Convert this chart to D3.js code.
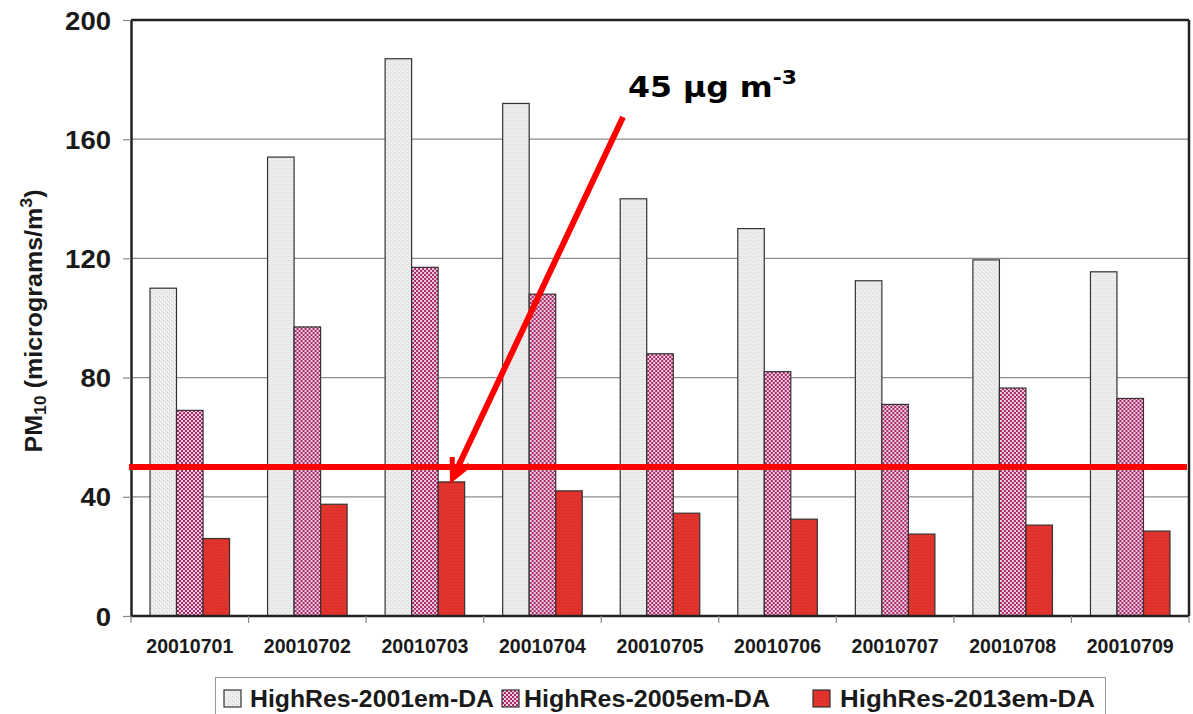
<!DOCTYPE html>
<html>
<head>
<meta charset="utf-8">
<script src="https://cdn.jsdelivr.net/npm/d3@7/dist/d3.min.js"></script>
<style>
  body { margin: 0; background: #fff; }
  svg text { font-family: "Liberation Sans", Arial, sans-serif; font-weight: bold; }
</style>
</head>
<body>
<svg id="chart" width="1193" height="714"></svg>
<script>
const dates = ["20010701","20010702","20010703","20010704","20010705","20010706","20010707","20010708","20010709"];
const seriesNames = ["HighRes-2001em-DA","HighRes-2005em-DA","HighRes-2013em-DA"];
const em2001 = [110, 154, 187, 172, 140, 130, 112.5, 119.5, 115.5];
const em2005 = [69, 97, 117, 108, 88, 82, 71, 76.5, 73];
const em2013 = [26, 37.5, 45, 42, 34.5, 32.5, 27.5, 30.5, 28.5];
const yTicks = [0, 40, 80, 120, 160, 200];
const limitValue = 50;
const annotatedIndex = 2;

const margin = { top: 20, right: 4, bottom: 98, left: 131 };
const svg = d3.select("#chart");
const width = 1193 - margin.left - margin.right;
const height = 714 - margin.top - margin.bottom;

// stretch text horizontally (the source font is a bit wider than Arial)
function widen(sel, factor) {
    sel.each(function() {
        const w = this.getComputedTextLength();
        d3.select(this).attr("textLength", w * factor).attr("lengthAdjust", "spacingAndGlyphs");
    });
}

// fill patterns
const defs = svg.append("defs");
const pGray = defs.append("pattern").attr("id", "pGray")
    .attr("width", 4).attr("height", 4).attr("patternUnits", "userSpaceOnUse");
pGray.append("rect").attr("width", 4).attr("height", 4).attr("fill", "#ebebeb");
pGray.append("rect").attr("x", 0).attr("y", 0).attr("width", 1).attr("height", 1).attr("fill", "#d0d0d0");
pGray.append("rect").attr("x", 2).attr("y", 2).attr("width", 1).attr("height", 1).attr("fill", "#d8d8d8");
pGray.append("rect").attr("x", 3).attr("y", 1).attr("width", 1).attr("height", 1).attr("fill", "#f8f8f8");
pGray.append("rect").attr("x", 1).attr("y", 3).attr("width", 1).attr("height", 1).attr("fill", "#f8f8f8");

const pPink = defs.append("pattern").attr("id", "pPink")
    .attr("width", 4).attr("height", 4).attr("patternUnits", "userSpaceOnUse");
pPink.append("rect").attr("width", 4).attr("height", 4).attr("fill", "#f0d0e0");
pPink.append("rect").attr("x", 0).attr("y", 0).attr("width", 2).attr("height", 2).attr("fill", "#a8286a");
pPink.append("rect").attr("x", 2).attr("y", 2).attr("width", 2).attr("height", 2).attr("fill", "#a8286a");

const pRed = defs.append("pattern").attr("id", "pRed")
    .attr("width", 3).attr("height", 3).attr("patternUnits", "userSpaceOnUse");
pRed.append("rect").attr("width", 3).attr("height", 3).attr("fill", "#e2332c");
pRed.append("rect").attr("x", 1).attr("y", 1).attr("width", 1).attr("height", 1).attr("fill", "#d02a26");

const fills = ["url(#pGray)", "url(#pPink)", "url(#pRed)"];

const g = svg.append("g").attr("transform", `translate(${margin.left},${margin.top})`);

const x0 = d3.scaleBand().domain(dates).range([0, width]).paddingInner(0).paddingOuter(0);
const x1 = d3.scaleBand().domain(seriesNames).range([19, x0.bandwidth() - 19]);
const y = d3.scaleLinear().domain([0, 200]).range([height, 0]);

// gridlines
g.selectAll(".grid").data(yTicks.filter(t => t > 0 && t < 200)).enter()
    .append("line")
    .attr("x1", 0).attr("x2", width)
    .attr("y1", d => y(d)).attr("y2", d => y(d))
    .attr("stroke", "#8c8c8c").attr("stroke-width", 1.2);

// bars
const rows = dates.map((d, i) => ({ date: d, values: [em2001[i], em2005[i], em2013[i]] }));
const groups = g.selectAll(".grp").data(rows).enter()
    .append("g").attr("transform", d => `translate(${x0(d.date)},0)`);
groups.selectAll("rect")
    .data(d => d.values.map((v, k) => ({ k, v })))
    .enter().append("rect")
    .attr("x", d => x1(seriesNames[d.k]))
    .attr("width", x1.bandwidth())
    .attr("y", d => y(d.v))
    .attr("height", d => y(0) - y(d.v))
    .attr("fill", d => fills[d.k])
    .attr("stroke", "#333")
    .attr("stroke-width", 1.2);

// frame top & right
g.append("line").attr("x1", 0).attr("x2", width).attr("y1", 0).attr("y2", 0)
    .attr("stroke", "#222").attr("stroke-width", 2.5);
g.append("line").attr("x1", width).attr("x2", width).attr("y1", 0).attr("y2", height)
    .attr("stroke", "#222").attr("stroke-width", 2.5);

// y axis
const yAxis = g.append("g")
    .call(d3.axisLeft(y).tickValues(yTicks).tickSize(8).tickPadding(12).tickSizeOuter(0));
yAxis.select(".domain").attr("stroke", "#222").attr("stroke-width", 2.5);
yAxis.selectAll(".tick line").attr("stroke", "#888").attr("stroke-width", 1.2);
yAxis.selectAll(".tick text")
    .style("font-size", "25px").style("font-family", "Liberation Sans, Arial, sans-serif")
    .style("font-weight", "bold").attr("fill", "#1a1a1a").attr("dy", "0.36em");
widen(yAxis.selectAll(".tick text"), 1.1);

// x axis
const xAxis = g.append("g").attr("transform", `translate(0,${height})`);
xAxis.append("line").attr("x1", 0).attr("x2", width).attr("y1", 0).attr("y2", 0)
    .attr("stroke", "#222").attr("stroke-width", 2.5);
xAxis.selectAll(".xt").data(dates.concat(["end"])).enter().append("line")
    .attr("x1", (d, i) => i * x0.step()).attr("x2", (d, i) => i * x0.step())
    .attr("y1", 0).attr("y2", 7)
    .attr("stroke", "#888").attr("stroke-width", 1.2);
const xLabels = xAxis.selectAll(".xl").data(dates).enter().append("text")
    .attr("x", d => x0(d) + x0.bandwidth() / 2)
    .attr("y", 37)
    .attr("text-anchor", "middle")
    .style("font-size", "20px")
    .attr("fill", "#1a1a1a")
    .text(d => d);
xLabels.attr("textLength", 87).attr("lengthAdjust", "spacingAndGlyphs");

// y label
const yl = svg.append("text")
    .attr("transform", `translate(42,${margin.top + height / 2 + 3}) rotate(-90)`)
    .attr("text-anchor", "middle")
    .style("font-size", "24px")
    .attr("fill", "#1a1a1a");
yl.append("tspan").text("PM");
yl.append("tspan").style("font-size", "17px").attr("dy", 4).text("10");
yl.append("tspan").attr("dy", -4).text(" (micrograms/m");
yl.append("tspan").style("font-size", "17px").attr("dy", -10).text("3");
yl.append("tspan").attr("dy", 10).text(")");
yl.attr("textLength", 263).attr("lengthAdjust", "spacingAndGlyphs");

// limit line
g.append("line")
    .attr("x1", -2).attr("x2", width - 2)
    .attr("y1", y(limitValue)).attr("y2", y(limitValue))
    .attr("stroke", "#ff0000").attr("stroke-width", 6);

// annotation arrow
const tipX = x0(dates[annotatedIndex]) + x1(seriesNames[2]) + x1.bandwidth() / 2 + 1;
const tipY = y(em2013[annotatedIndex]) - 3;
const startX = 492;
const startY = 97;
const ang = Math.atan2(tipY - startY, tipX - startX);
const ah = 22, spread = 0.45;
g.append("line")
    .attr("x1", startX).attr("y1", startY).attr("x2", tipX - 2 * Math.cos(ang)).attr("y2", tipY - 2 * Math.sin(ang))
    .attr("stroke", "#ff0000").attr("stroke-width", 6);
g.append("path")
    .attr("d", `M${tipX - ah * Math.cos(ang - spread)},${tipY - ah * Math.sin(ang - spread)} L${tipX},${tipY} L${tipX - ah * Math.cos(ang + spread)},${tipY - ah * Math.sin(ang + spread)}`)
    .attr("fill", "none").attr("stroke", "#ff0000").attr("stroke-width", 5)
    .attr("stroke-linejoin", "miter");

const ann = svg.append("text")
    .attr("x", 628).attr("y", 97)
    .style("font-family", "DejaVu Sans, Verdana, sans-serif")
    .style("font-weight", "bold")
    .style("font-size", "29px")
    .attr("fill", "#000");
ann.append("tspan").text("45 µg m");
ann.append("tspan").style("font-size", "20px").attr("dy", -13).text("-3");
ann.attr("textLength", 169).attr("lengthAdjust", "spacingAndGlyphs");

// legend
const leg = svg.append("g");
leg.append("rect").attr("x", 215.5).attr("y", 677.5).attr("width", 890).attr("height", 40)
    .attr("fill", "#fff").attr("stroke", "#999").attr("stroke-width", 1);
const legSwatchX = [224, 502, 813];
const legTextX = [250, 524, 840];
const legTextW = [244, 246, 255];
seriesNames.forEach((name, k) => {
    leg.append("rect").attr("x", legSwatchX[k]).attr("y", 690).attr("width", 17).attr("height", 17)
        .attr("fill", fills[k]).attr("stroke", "#333").attr("stroke-width", 1.2);
    leg.append("text").attr("x", legTextX[k]).attr("y", 707)
        .style("font-size", "23px").attr("fill", "#1a1a1a")
        .attr("textLength", legTextW[k]).attr("lengthAdjust", "spacingAndGlyphs")
        .text(name);
});
</script>
</body>
</html>
